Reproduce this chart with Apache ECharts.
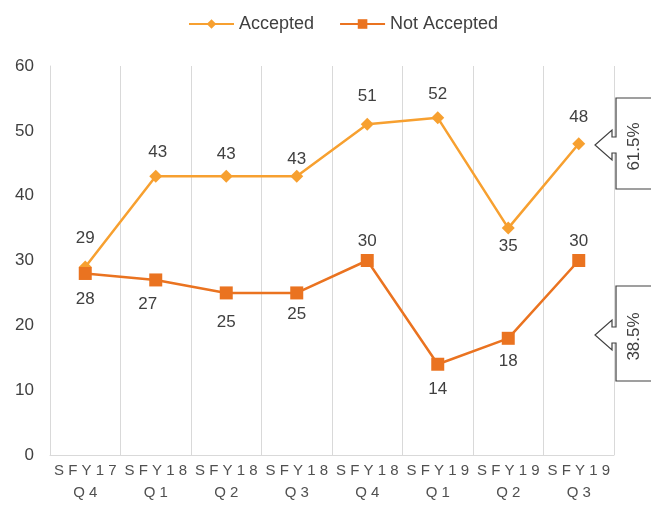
<!DOCTYPE html>
<html>
<head>
<meta charset="utf-8">
<script src="https://cdn.jsdelivr.net/npm/echarts@6/dist/echarts.min.js"></script>
<style>
html,body{margin:0;padding:0;background:#fff;}
#chart{width:651px;height:508px;}
</style>
</head>
<body>
<div id="chart"></div>
<script>
var categories = ['SFY17 Q4','SFY18 Q1','SFY18 Q2','SFY18 Q3','SFY18 Q4','SFY19 Q1','SFY19 Q2','SFY19 Q3'];
var accepted = [29, 43, 43, 43, 51, 52, 35, 48];
var notAccepted = [28, 27, 25, 25, 30, 14, 18, 30];
var yTicks = [0, 10, 20, 30, 40, 50, 60];

// label placement (style only): pixel offsets of each value label from its marker
var accLabelOffset = [[0,-29],[2,-24],[0,-22],[0,-17],[0,-28],[0,-24],[0,18],[0,-26]];
var notLabelOffset = [[0,26],[-8,24],[0,29],[0,21],[0,-19],[0,25],[0,23],[0,-19]];

var FONT = 'Liberation Sans';
var cAcc = '#F7A030';
var cNot = '#EA7320';

function spaced(s){ return s.split('').join(' '); }

var last = accepted.length - 1;
var tot = accepted[last] + notAccepted[last];
var pctAcc = (accepted[last] / tot * 100).toFixed(1) + '%';
var pctNot = (notAccepted[last] / tot * 100).toFixed(1) + '%';

function callout(cy, top, bottom, text){
  var pts = [[660, top],[616, top],[616, cy-8],[612, cy-8],[612, cy-15],[595, cy],[612, cy+15],[612, cy+8],[616, cy+8],[616, bottom],[660, bottom]];
  return [
    {type:'polyline', shape:{points:pts}, style:{stroke:'#404040', lineWidth:1.2, fill:'#fff'}, z:10},
    {type:'text', x:634, y:(top+bottom)/2+3, rotation:Math.PI/2,
     style:{text:text, font:'17px "'+FONT+'"', fill:'#404040', align:'center', verticalAlign:'middle'}, z:11}
  ];
}

var chart = echarts.init(document.getElementById('chart'));
chart.setOption({
  animation:false,
  backgroundColor:'#fff',
  textStyle:{fontFamily:FONT},
  legend:{
    top:10, left:183, itemWidth:45, itemHeight:12, itemGap:25,
    textStyle:{fontSize:18, color:'#404040', fontFamily:FONT},
    data:['Accepted','Not Accepted']
  },
  grid:{left:50, right:37, top:66, bottom:53, containLabel:false},
  xAxis:{
    type:'category', data:categories, boundaryGap:true,
    axisLine:{show:true, lineStyle:{color:'#D9D9D9', width:1}},
    axisTick:{show:false},
    splitLine:{show:true, lineStyle:{color:'#D9D9D9', width:1}},
    axisLabel:{
      color:'#505050', fontSize:15, fontFamily:FONT, lineHeight:22, margin:5, interval:0,
      formatter:function(v){ var p=v.split(' '); return spaced(p[0])+'\n'+spaced(p[1]); }
    }
  },
  yAxis:{
    type:'value', min:0, max:60, interval:10,
    axisLine:{show:true, lineStyle:{color:'#D9D9D9'}},
    axisTick:{show:false},
    splitLine:{show:false},
    axisLabel:{color:'#404040', fontSize:17, fontFamily:FONT, margin:16,
      formatter:function(v){ return yTicks.indexOf(v) >= 0 ? String(v) : ''; }}
  },
  series:[
    {
      name:'Accepted', type:'line', symbol:'diamond', symbolSize:13,
      lineStyle:{color:cAcc, width:2.5}, itemStyle:{color:cAcc},
      data:accepted.map(function(v,i){ return {value:v, label:{offset:accLabelOffset[i]}}; }),
      label:{show:true, position:'inside', fontSize:17, color:'#404040', fontFamily:FONT},
      z:3
    },
    {
      name:'Not Accepted', type:'line', symbol:'rect', symbolSize:13,
      lineStyle:{color:cNot, width:2.5}, itemStyle:{color:cNot},
      data:notAccepted.map(function(v,i){ return {value:v, label:{offset:notLabelOffset[i]}}; }),
      label:{show:true, position:'inside', fontSize:17, color:'#404040', fontFamily:FONT},
      z:4
    }
  ],
  graphic: callout(145, 98, 189, pctAcc).concat(callout(335, 286, 381, pctNot))
});
</script>
</body>
</html>
